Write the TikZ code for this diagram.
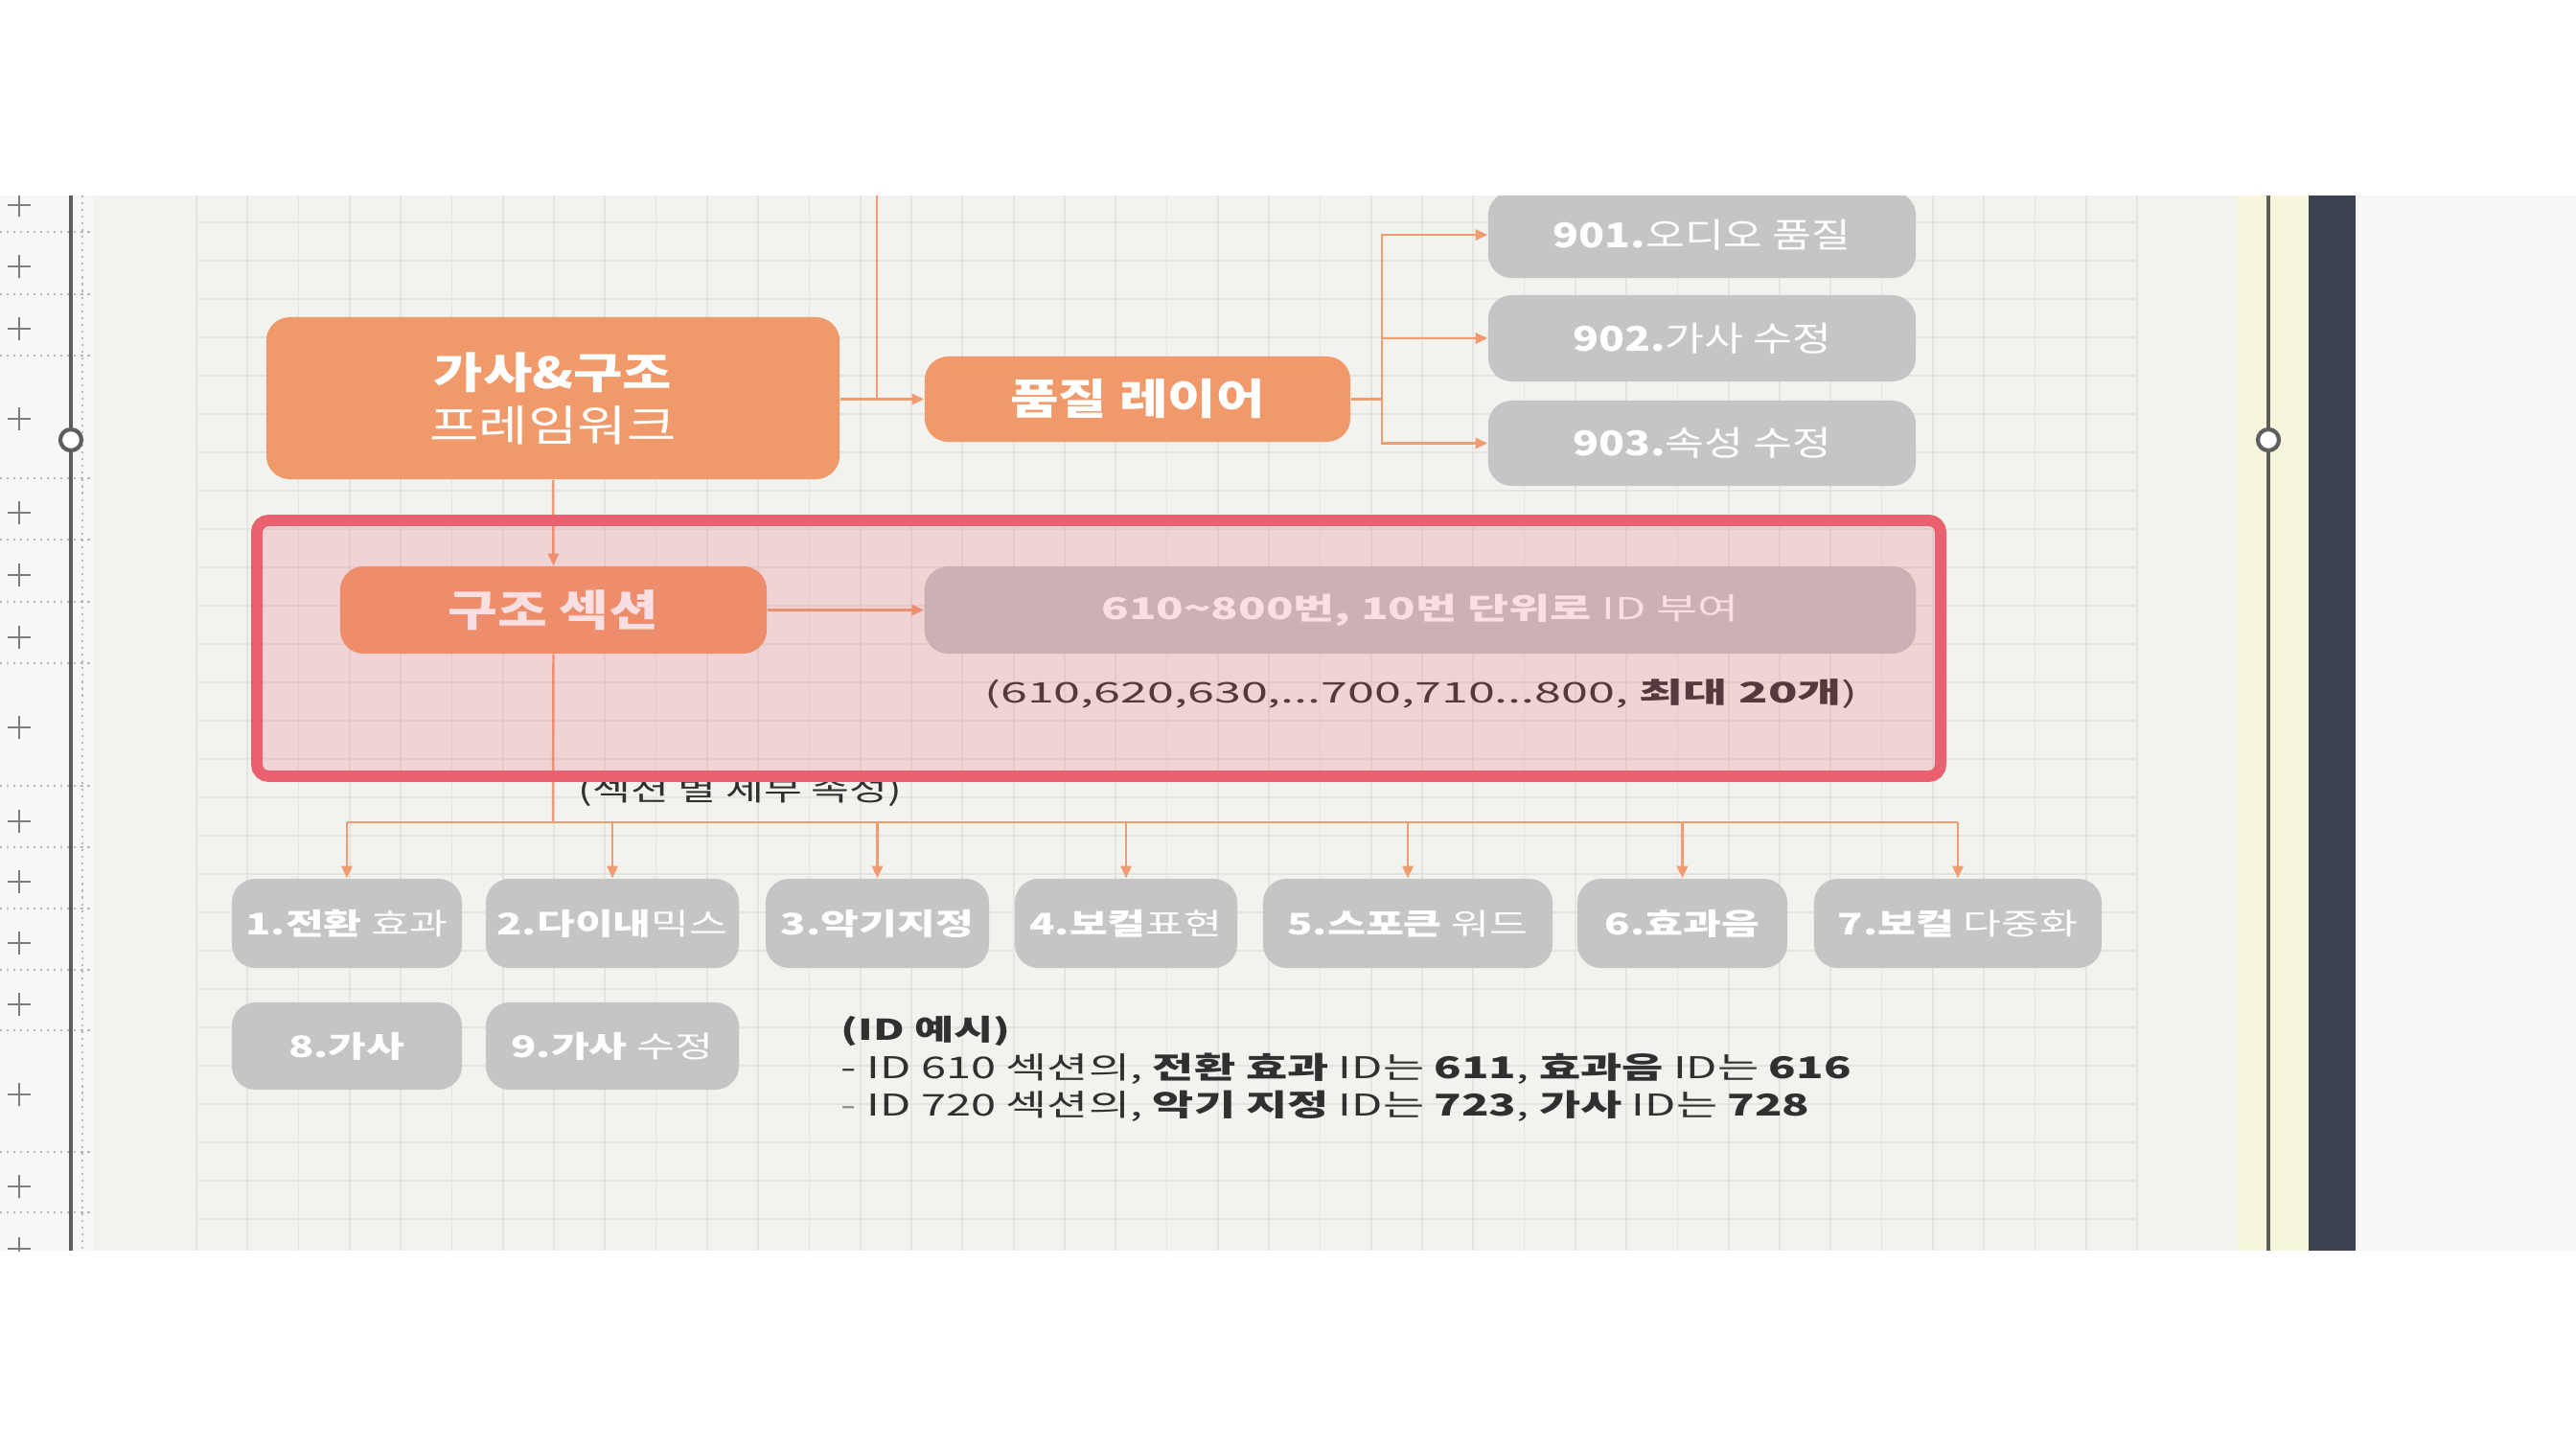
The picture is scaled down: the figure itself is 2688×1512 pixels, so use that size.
\documentclass[tikz,border=0pt]{standalone}
\usepackage{fontspec}
\setmainfont{Noto Sans CJK KR}
\newfontfamily\fA[FakeStretch=1.25]{Noto Sans CJK KR}
\newfontfamily\fB[FakeStretch=1.4]{Noto Sans CJK KR}
\newfontfamily\fC[FakeStretch=1.5]{Noto Sans CJK KR}
\newfontfamily\fD[FakeStretch=1.7]{Noto Sans CJK KR}
\usetikzlibrary{arrows.meta}
\definecolor{orangeC}{HTML}{F0996A}
\definecolor{lineC}{HTML}{F09C70}
\definecolor{grayC}{HTML}{C5C5C5}
\definecolor{redC}{HTML}{E9606F}
\definecolor{gridC}{HTML}{E4E4E0}
\definecolor{canvasC}{HTML}{F2F2EF}
\definecolor{rulerC}{HTML}{F7F7F7}
\definecolor{textC}{HTML}{303030}
\definecolor{yellowC}{HTML}{F7F6DC}
\definecolor{darkC}{HTML}{3B4251}
\definecolor{handleC}{HTML}{5E5E5E}
\tikzset{
  obox/.style={rounded corners=7pt, fill=orangeC, text=white, inner sep=0pt, align=center},
  gbox/.style={rounded corners=7pt, fill=grayC, text=white, inner sep=0pt, align=center, font=\fA\fontsize{10.1}{12}\selectfont},
  rbox/.style={gbox, minimum height=0.93cm, font=\fB\fontsize{8.8}{10}\selectfont},
  conn/.style={draw=lineC, line width=0.7pt},
  arr/.style={conn, -{Triangle[length=3.6pt,width=3.2pt]}},
  plain/.style={inner sep=0pt, text=textC},
  plus/.style={draw=handleC!80, line width=0.7pt},
  dotl/.style={draw=black!28, line width=0.5pt, dash pattern=on 0.6pt off 1.4pt},
}
\begin{document}
\begin{tikzpicture}[x=0.01cm,y=-0.01cm]
\useasboundingbox (0,0) rectangle (2688,1512);
\fill[white] (0,0) rectangle (2688,1512);
% side panels
\fill[rulerC] (0,204) rectangle (97,1305);
\fill[canvasC] (97,204) rectangle (2335,1305);
\fill[yellowC] (2335,204) rectangle (2409,1305);
\fill[darkC] (2409,204) rectangle (2458,1305);
\fill[rulerC] (2458,204) rectangle (2688,1305);
% grid
\foreach \i in {0,...,38} \draw[gridC, line width=0.5pt] ({205+\i*53.29},204) -- ({205+\i*53.29},1305);
\foreach \y in {232,272,...,1292} \draw[gridC, line width=0.5pt] (205,\y) -- (2230,\y);
% ruler
\begin{scope}
\clip (0,204) rectangle (97,1305);
\foreach \y in {214,278,343,437,535,600,665,759,857,920,984,1048,1142,1238,1303}
  \draw[plus] (8,\y) -- (32,\y) (20,{\y-12}) -- (20,{\y+12});
\foreach \y in {242,307,371,499,563,628,692,820,884,948,1012,1075,1202,1265}
  \draw[dotl] (0,\y) -- (97,\y);
\draw[dotl] (86,204) -- (86,1305);
\end{scope}
\draw[handleC, line width=0.9pt] (74,204) -- (74,1305);
\draw[handleC, line width=1.2pt, fill=white] (74,459) circle (0.11cm);
\draw[handleC, line width=0.9pt] (2367,204) -- (2367,1305);
\draw[handleC, line width=1.2pt, fill=white] (2367,459) circle (0.11cm);

\begin{scope}
\clip (97,204) rectangle (2335,1305);
% nodes
\node[obox, minimum width=5.98cm, minimum height=1.69cm, font=\fA\fontsize{12.7}{15.1}\selectfont] (frame) at (577,415.5)
  {\raisebox{-1pt}{\bfseries 가사\&구조}\\[0pt]\raisebox{-1.5pt}{프레임워크}};
\node[obox, minimum width=4.44cm, minimum height=0.89cm, font=\fA\fontsize{12.5}{14}\selectfont\bfseries] (quality) at (1187,416.5) {품질 레이어};
\node[gbox, minimum width=4.46cm, minimum height=0.90cm] (q901) at (1776,245) {\bfseries 901.\mdseries 오디오 품질};
\node[gbox, minimum width=4.46cm, minimum height=0.90cm] (q902) at (1776,353) {\bfseries 902.\mdseries 가사 수정};
\node[gbox, minimum width=4.46cm, minimum height=0.89cm] (q903) at (1776,462.5) {\bfseries 903.\mdseries 속성 수정};

\node[obox, minimum width=4.45cm, minimum height=0.91cm, font=\fA\fontsize{12.8}{14}\selectfont\bfseries] (section) at (577.5,636.5) {구조 섹션};
\node[gbox, minimum width=10.34cm, minimum height=0.91cm, font=\fC\fontsize{8.9}{10}\selectfont] (idbox) at (1482,636.5) {\bfseries 610\textasciitilde800번, 10번 단위로 \mdseries ID 부여};
\node[plain, font=\fD\fontsize{8.4}{10}\selectfont] (range) at (1483,724) {(610,620,630,...700,710...800, \textbf{최대 20개})};

\node[rbox, minimum width=2.40cm] (b1) at (362,963.5) {\bfseries 1.전환 \mdseries 효과};
\node[rbox, minimum width=2.64cm] (b2) at (639,963.5) {\bfseries 2.다이내\mdseries 믹스};
\node[rbox, minimum width=2.33cm] (b3) at (915.5,963.5) {\bfseries 3.악기지정};
\node[rbox, minimum width=2.32cm] (b4) at (1175,963.5) {\bfseries 4.보컬\mdseries 표현};
\node[rbox, minimum width=3.02cm] (b5) at (1469,963.5) {\bfseries 5.스포큰 \mdseries 워드};
\node[rbox, minimum width=2.19cm] (b6) at (1755.5,963.5) {\bfseries 6.효과음};
\node[rbox, minimum width=3.00cm] (b7) at (2043,963.5) {\bfseries 7.보컬 \mdseries 다중화};
\node[rbox, minimum width=2.40cm, minimum height=0.91cm] (b8) at (362,1091.5) {\bfseries 8.가사};
\node[rbox, minimum width=2.64cm, minimum height=0.91cm] (b9) at (639,1091.5) {\bfseries 9.가사 \mdseries 수정};

\node[plain, anchor=west, font=\fB\fontsize{8.8}{10}\selectfont] (sublabel) at (603,826) {(섹션 별 세부 속성)};

\node[plain, anchor=west, font=\fC\fontsize{8.5}{10}\selectfont\bfseries] (ex1) at (877,1076) {(ID 예시)};
\node[plain, anchor=west, font=\fC\fontsize{8.9}{10}\selectfont] (ex2) at (877,1115) {- ID 610 섹션의, \textbf{전환 효과} ID는 \textbf{611}, \textbf{효과음} ID는 \textbf{616}};
\node[plain, anchor=west, font=\fC\fontsize{8.9}{10}\selectfont] (ex3) at (877,1154) {\textcolor{black!45}{-} ID 720 섹션의, \textbf{악기 지정} ID는 \textbf{723}, \textbf{가사} ID는 \textbf{728}};

% connectors
\coordinate (top) at (915,204);
\coordinate (j1) at (915,416.5);
\coordinate (j2) at (1442,416.5);
\coordinate (j3) at (577,858);
\coordinate (hl) at (362,858);
\coordinate (hr) at (2043,858);
\draw[conn] (top) -- (j1);
\draw[arr] (frame.east |- j1) -- (quality.west);
\draw[conn] (quality.east) -- (j2);
\draw[arr] (j2) |- (q901.west);
\draw[arr] (j2) |- (q902.west);
\draw[arr] (j2) |- (q903.west);
\draw[arr] (frame.south) -- (section.north);
\draw[arr] (section.east) -- (idbox.west);
\draw[conn] (section.south) -- (j3);
\draw[conn] (hl) -- (hr);
\foreach \b in {b1,b2,b3,b4,b5,b6,b7} \draw[arr] (hl -| \b.north) -- (\b.north);

% highlight overlay
\fill[redC, fill opacity=0.2] (268,543) rectangle (2025,810);
\draw[redC, line width=3.4pt, rounded corners=3.5pt] (268,543) rectangle (2025,810);
\end{scope}
\end{tikzpicture}
\end{document}
